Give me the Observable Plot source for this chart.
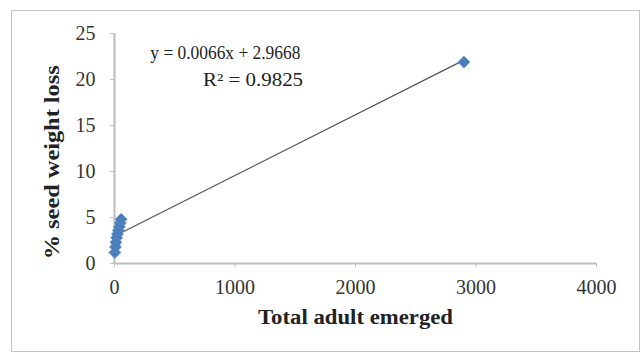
<!DOCTYPE html>
<html>
<head>
<meta charset="utf-8">
<script src="https://cdn.jsdelivr.net/npm/d3@7"></script>
<script src="https://cdn.jsdelivr.net/npm/@observablehq/plot@0.6"></script>
<style>
  body { margin: 0; background: #fff; }
  #wrap { position: relative; width: 641px; height: 358px; }
  #border { position: absolute; left: 11px; top: 10px; width: 629px; height: 342px; border: 1.5px solid #c4c4c4; box-sizing: border-box; }
  #chart { position: absolute; left: 0; top: 0; }
</style>
</head>
<body>
<div id="wrap"><div id="border"></div><div id="chart"></div></div>
<script>
const adultsEmerged = [3, 8, 12, 18, 25, 32, 40, 48, 55, 2900];
const seedWeightLoss = [1.2, 1.8, 2.3, 2.8, 3.2, 3.6, 4.0, 4.4, 4.8, 21.9];
const slope = 0.0066;
const intercept = 2.9668;
const equationLabel = "y = 0.0066x + 2.9668";
const r2Label = "R² = 0.9825";
const xTicks = [0, 1000, 2000, 3000, 4000];
const yTicks = [0, 5, 10, 15, 20, 25];
const xTitle = "Total adult emerged";
const yTitle = "% seed weight loss";

const points = adultsEmerged.map((x, i) => ({x, y: seedWeightLoss[i]}));
const xMin = d3.min(adultsEmerged), xMax = d3.max(adultsEmerged);
const trend = [xMin, xMax].map(x => ({x, y: slope * x + intercept}));

const serif = "'Liberation Serif', 'Times New Roman', serif";
const axisGray = "#bdbdbd";

const chart = Plot.plot({
  width: 641,
  height: 358,
  marginLeft: 114,
  marginRight: 45,
  marginTop: 33,
  marginBottom: 95,
  style: {fontFamily: serif, fontSize: "20px", color: "#333", background: "transparent"},
  x: {domain: [0, 4000], label: null},
  y: {domain: [0, 25], label: null},
  marks: [
    Plot.axisX({ticks: xTicks, tickSize: 4, tickPadding: 12, stroke: axisGray, fill: "#333", fontSize: 20, tickFormat: d => String(d)}),
    Plot.axisY({ticks: yTicks, tickSize: 4, tickPadding: 15, stroke: axisGray, fill: "#333", fontSize: 20, tickFormat: d => String(d)}),
    Plot.ruleY([0], {stroke: axisGray, strokeWidth: 2}),
    Plot.ruleX([0], {stroke: axisGray, strokeWidth: 2}),
    Plot.line(trend, {x: "x", y: "y", stroke: "#555", strokeWidth: 1.2}),
    Plot.dot(points, {x: "x", y: "y", symbol: "diamond2", r: 5.5, fill: "#4a7ebb", stroke: "#5b8fd0", strokeWidth: 0.5}),
    Plot.text([equationLabel], {x: 920, y: 22.9, text: d => d, fontSize: 18, fill: "#222", className: "eq"}),
    Plot.text([r2Label], {x: 1150, y: 19.9, text: d => d, fontSize: 18, fill: "#222", className: "r2"}),
    Plot.text([xTitle], {x: 2000, frameAnchor: "bottom", dy: 60, text: d => d, fontSize: 20, fontWeight: "bold", fill: "#222", className: "xt"}),
    Plot.text([yTitle], {y: 11.0, frameAnchor: "left", dx: -62, rotate: -90, textAnchor: "middle", text: d => d, fontSize: 20, fontWeight: "bold", fill: "#222", className: "yt"})
  ]
});
document.getElementById("chart").appendChild(chart);
const stretch = (cls, len, mode) => d3.select(chart).selectAll(`g.${cls} text`).attr("textLength", len).attr("lengthAdjust", mode);
stretch("eq", 150, "spacingAndGlyphs");
stretch("r2", 100, "spacingAndGlyphs");
stretch("xt", 195, "spacingAndGlyphs");
stretch("yt", 194, "spacingAndGlyphs");
</script>
</body>
</html>
